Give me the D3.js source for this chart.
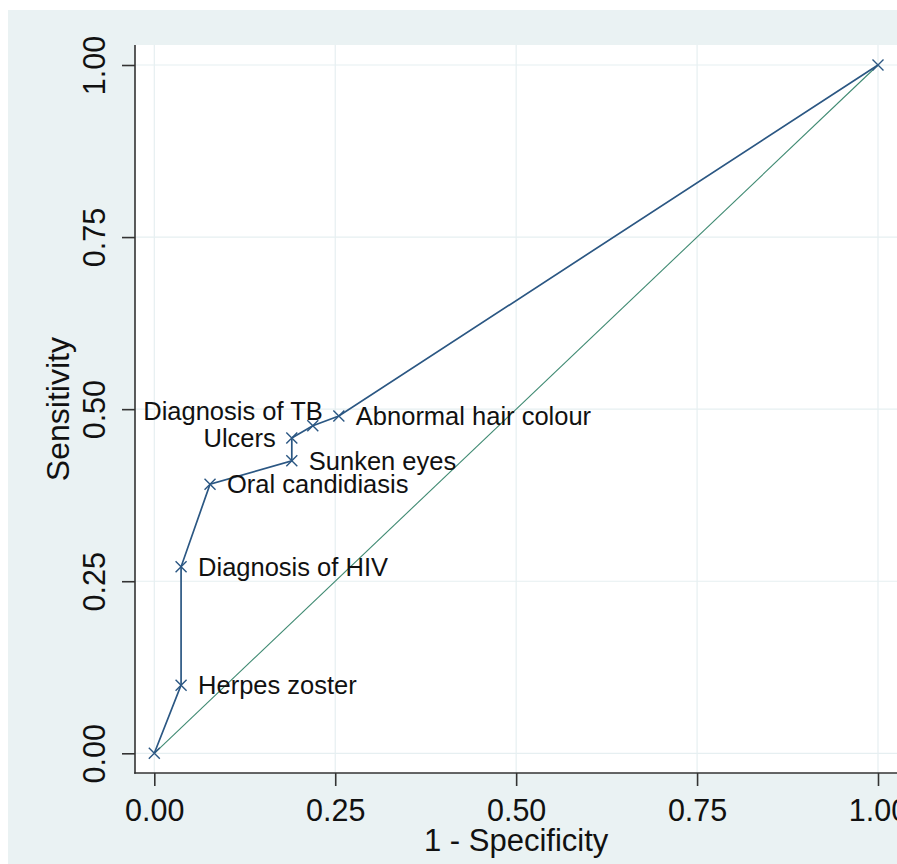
<!DOCTYPE html>
<html>
<head>
<meta charset="utf-8">
<script src="https://cdn.jsdelivr.net/npm/d3@7"></script>
<style>
  html, body { margin: 0; padding: 0; background: #ffffff; }
  svg { display: block; }
  text { font-family: "Liberation Sans", Arial, sans-serif; fill: #111; }
</style>
</head>
<body>
<svg id="chart" width="897" height="864"></svg>
<script>
// ROC curve points (1 - specificity, sensitivity), ordered along the curve
const fpr   = [0, 0.037, 0.037, 0.077, 0.190, 0.190, 0.219, 0.255, 1];
const tpr   = [0, 0.099, 0.271, 0.391, 0.425, 0.458, 0.476, 0.490, 1];
const names = ["", "Herpes zoster", "Diagnosis of HIV", "Oral candidiasis",
               "Sunken eyes", "Ulcers", "Diagnosis of TB", "Abnormal hair colour", ""];
// clock position of each marker label (3 = right, 9 = left, 11 = upper left)
const labelPos = [3, 3, 3, 3, 3, 9, 11, 3, 3];

const xTicks = [0, 0.25, 0.5, 0.75, 1];
const yTicks = [0, 0.25, 0.5, 0.75, 1];
const xTitle = "1 - Specificity";
const yTitle = "Sensitivity";

const svg = d3.select("#chart");
const W = 897, H = 864;

// Outer graph region and white plot region
svg.append("rect").attr("x", 8).attr("y", 10).attr("width", W).attr("height", H)
  .attr("fill", "#eaf2f3");
const plot = { left: 135, top: 45, right: 905, bottom: 773 };
svg.append("rect").attr("x", plot.left).attr("y", plot.top)
  .attr("width", plot.right - plot.left).attr("height", plot.bottom - plot.top)
  .attr("fill", "#ffffff");

const x = d3.scaleLinear().domain([0, 1]).range([154.3, 878]);
const y = d3.scaleLinear().domain([0, 1]).range([753.3, 65]);

// Grid lines
const grid = svg.append("g").attr("stroke", "#e6eff1").attr("stroke-width", 1.2);
grid.selectAll("line.v").data(xTicks).join("line")
  .attr("x1", d => x(d)).attr("x2", d => x(d))
  .attr("y1", plot.top).attr("y2", plot.bottom);
grid.selectAll("line.h").data(yTicks).join("line")
  .attr("y1", d => y(d)).attr("y2", d => y(d))
  .attr("x1", plot.left).attr("x2", plot.right);

// Axes
const xAxis = d3.axisBottom(x).tickValues(xTicks).tickFormat(d3.format(".2f"))
  .tickSize(13).tickPadding(13);
const gx = svg.append("g").attr("transform", `translate(0,${plot.bottom})`).call(xAxis);
gx.select(".domain").remove();
gx.selectAll(".tick line").attr("stroke", "#333").attr("stroke-width", 1.6);
gx.selectAll(".tick text").attr("font-size", 30.5).attr("fill", "#111")
  .attr("font-family", "Liberation Sans, Arial, sans-serif");

const yAxis = d3.axisLeft(y).tickValues(yTicks).tickFormat(d3.format(".2f"))
  .tickSize(13).tickPadding(6);
const gy = svg.append("g").attr("transform", `translate(${plot.left},0)`).call(yAxis);
gy.select(".domain").remove();
gy.selectAll(".tick line").attr("stroke", "#333").attr("stroke-width", 1.6);
gy.selectAll(".tick text").attr("font-size", 30.5).attr("fill", "#111")
  .attr("font-family", "Liberation Sans, Arial, sans-serif")
  .attr("text-anchor", "middle").attr("dy", null)
  .attr("transform", "translate(-41,0) rotate(-90)")
  .attr("x", 0).attr("y", 0).attr("dominant-baseline", "central");

// Axis lines
svg.append("line").attr("x1", plot.left).attr("x2", plot.left)
  .attr("y1", plot.top).attr("y2", plot.bottom + 0.8)
  .attr("stroke", "#333").attr("stroke-width", 1.6);
svg.append("line").attr("x1", plot.left - 0.8).attr("x2", plot.right)
  .attr("y1", plot.bottom).attr("y2", plot.bottom)
  .attr("stroke", "#333").attr("stroke-width", 1.6);

// Axis titles
svg.append("text").attr("x", (x(0) + x(1)) / 2).attr("y", 851)
  .attr("text-anchor", "middle").attr("font-size", 31).text(xTitle);
svg.append("text").attr("transform", `translate(69,${(y(0) + y(1)) / 2}) rotate(-90)`)
  .attr("text-anchor", "middle").attr("font-size", 32).text(yTitle);

// Diagonal reference line
svg.append("line")
  .attr("x1", x(0)).attr("y1", y(0)).attr("x2", x(1)).attr("y2", y(1))
  .attr("stroke", "#3f8a72").attr("stroke-width", 1.1);

// ROC curve
const pts = fpr.map((f, i) => ({ f, t: tpr[i], name: names[i], pos: labelPos[i] }));
svg.append("path").datum(pts)
  .attr("d", d3.line().x(d => x(d.f)).y(d => y(d.t)))
  .attr("fill", "none").attr("stroke", "#2b5783").attr("stroke-width", 1.7);

// X markers
const m = 5.5;
svg.append("g").selectAll("path").data(pts).join("path")
  .attr("d", d => {
    const cx = x(d.f), cy = y(d.t);
    return `M${cx - m},${cy - m}L${cx + m},${cy + m}M${cx - m},${cy + m}L${cx + m},${cy - m}`;
  })
  .attr("stroke", "#2b5783").attr("stroke-width", 1.4).attr("fill", "none");

// Marker labels
svg.append("g").selectAll("text").data(pts.filter(d => d.name)).join("text")
  .attr("font-size", 25.5)
  .attr("dominant-baseline", "central")
  .attr("text-anchor", d => d.pos === 3 ? "start" : "end")
  .attr("x", d => {
    const cx = x(d.f);
    if (d.pos === 3) return cx + 17;
    if (d.pos === 9) return cx - 16;
    return cx + 10;
  })
  .attr("y", d => {
    const cy = y(d.t);
    if (d.pos === 11) return cy - 15;
    return cy + 0;
  })
  .text(d => d.name);
</script>
</body>
</html>
